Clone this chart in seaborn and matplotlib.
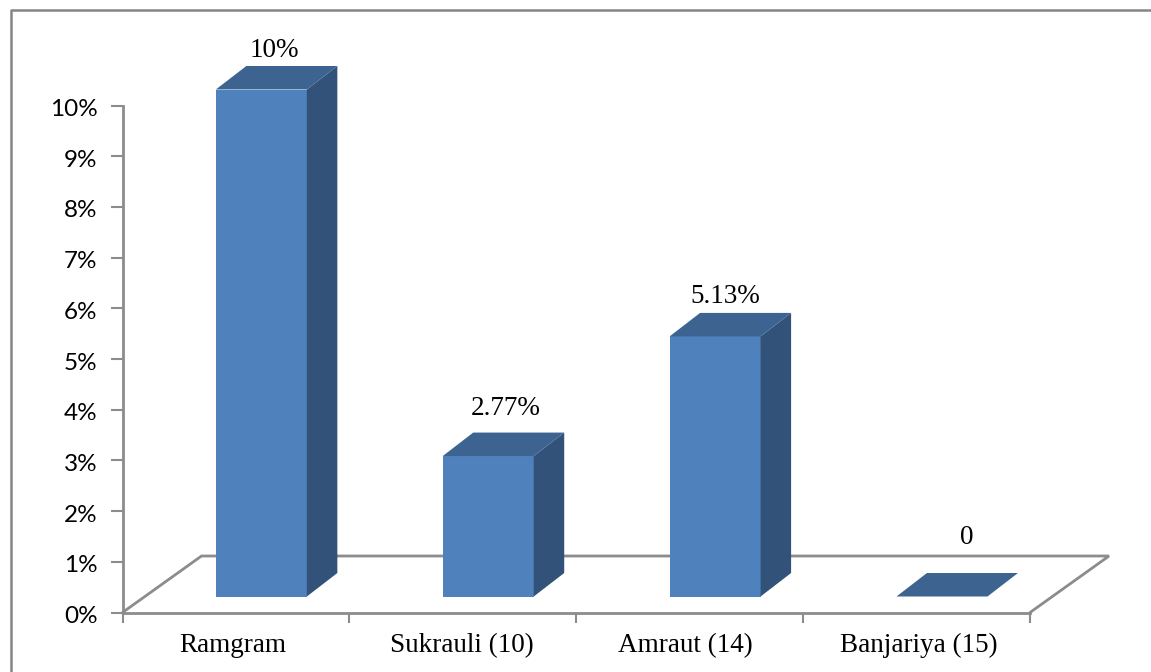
import matplotlib
matplotlib.use("Agg")
import matplotlib.pyplot as plt
from matplotlib.patches import Polygon
from matplotlib.lines import Line2D
from matplotlib.transforms import ScaledTranslation
import seaborn as sns

categories = ["Ramgram", "Sukrauli (10)", "Amraut (14)", "Banjariya (15)"]
values = [10.0, 2.77, 5.13, 0.0]
value_labels = ["10%", "2.77%", "5.13%", "0"]
y_ticks = list(range(0, 11))
y_tick_labels = [f"{v}%" for v in y_ticks]

W, H = 1151, 672
L, R, T, B = 122.5, 1030.0, 105.5, 612.5
FRONT, SIDE, TOP = "#4f81bd", "#325279", "#3d6491"
GRID = "#8c8c8c"

sns.set_theme(style="white")
fig = plt.figure(figsize=(W / 100, H / 100), dpi=100, facecolor="white")
ax = fig.add_axes([L / W, 1 - B / H, (R - L) / W, (B - T) / H])

px_x = 4 / (R - L)
px_y = 10 / (B - T)
lift = 16 * px_y
bar_w = 91 * px_x
shift = 0.112
dx, dy = 30.5 * px_x, 23.5 * px_y
fx, fy = 79 * px_x, 56.5 * px_y
# label nudges from the top-back edge of each bar, in pixels
label_nudge_x = [13.5, 17, 10, 25]
label_nudge_y = [9, 18, 10, 29]
tick_nudge_x = [-3.5, -1, -4, 2]

# floor behind the bars
ax.plot([-0.5, -0.5 + fx, 3.5 + fx, 3.5], [0, fy, fy, 0], color=GRID, lw=2,
        clip_on=False, zorder=1, solid_joinstyle="miter")

sns.barplot(x=categories, y=values, bottom=lift, width=bar_w, color=FRONT,
            saturation=1, ax=ax, zorder=3, linewidth=0)
ax.set_xlim(-0.5, 3.5)
ax.set_ylim(0, 10)

for i, p in enumerate(list(ax.patches)):
    p.set_x(p.get_x() + shift)
    p.set_clip_on(False)
    x0, x1 = p.get_x(), p.get_x() + p.get_width()
    y0, y1 = lift, lift + values[i]
    ax.add_patch(Polygon([(x1, y0), (x1 + dx, y0 + dy), (x1 + dx, y1 + dy), (x1, y1)],
                         fc=SIDE, ec="none", clip_on=False, zorder=3))
    ax.add_patch(Polygon([(x0, y1), (x0 + dx, y1 + dy), (x1 + dx, y1 + dy), (x1, y1)],
                         fc=TOP, ec="none", clip_on=False, zorder=3))
    ax.text((x0 + x1) / 2 + label_nudge_x[i] * px_x, y1 + dy + label_nudge_y[i] * px_y,
            value_labels[i], ha="center", va="baseline",
            family="Liberation Serif", fontsize=19.5, color="black", zorder=5, clip_on=False)

sns.despine(ax=ax, top=True, right=True)
for s in ("left", "bottom"):
    ax.spines[s].set_color(GRID)
    ax.spines[s].set_linewidth(2)
ax.set_yticks(y_ticks, y_tick_labels, family="Lato", fontsize=17.5, color="black")
ax.set_xticks([0, 1, 2, 3], categories, family="Liberation Serif", fontsize=19.5, color="black")
ax.set_xticks([-0.5, 0.5, 1.5, 2.5, 3.5], minor=True)
ax.tick_params(axis="y", which="major", length=9, width=1.5, color=GRID, left=True, pad=9)
ax.tick_params(axis="x", which="major", length=0, pad=15)
ax.tick_params(axis="x", which="minor", length=7, width=1.5, color=GRID, bottom=True)
ax.set_xlabel("")
ax.set_ylabel("")

for lab in ax.get_yticklabels():
    lab.set_transform(lab.get_transform() + ScaledTranslation(0, -2 / 100, fig.dpi_scale_trans))
for lab, n in zip(ax.get_xticklabels(), tick_nudge_x):
    lab.set_transform(lab.get_transform() + ScaledTranslation(n / 100, 0, fig.dpi_scale_trans))

# outer chart border: left and top edges only, running off the canvas
border = [(10.5, 672), (10.5, 10), (1151, 10)]
fig.add_artist(Line2D([p[0] / W for p in border], [1 - p[1] / H for p in border],
                      color="#858585", lw=1.8, transform=fig.transFigure))

fig.savefig("out.png", dpi=100)
